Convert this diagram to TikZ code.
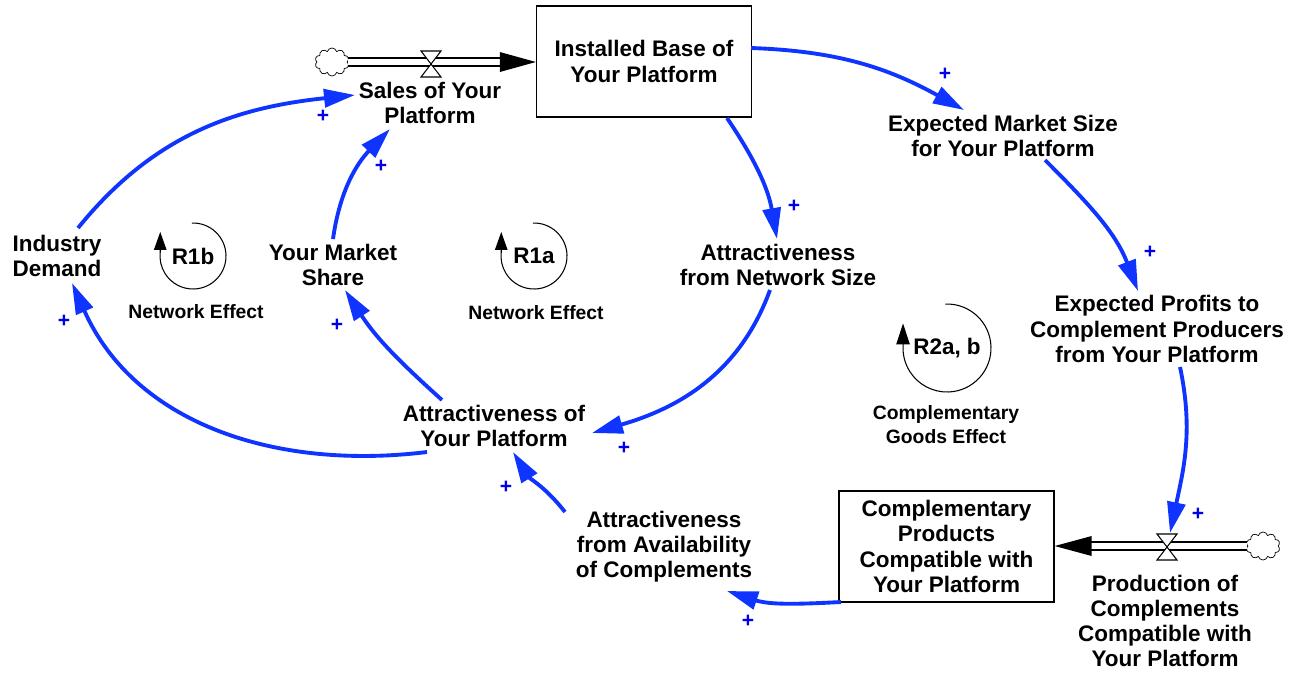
\documentclass[tikz,border=0pt]{standalone}
\usepackage{fontspec}
\setmainfont{Liberation Sans}
\usepackage{tikz}
\usetikzlibrary{positioning, arrows, arrows.meta, shapes.symbols}
\definecolor{lnkblue}{RGB}{16,52,255}
\definecolor{plsblue}{RGB}{0,0,235}

\begin{document}
\begin{tikzpicture}[x=0.02cm, y=0.02cm,
var/.style={align=center, font=\bfseries\fontsize{12.8}{14.3}\selectfont, inner sep=0pt},
stock/.style={var, draw, line width=0.8pt, minimum width=4.3cm, minimum height=2.22cm},
lnk/.style={lnkblue, line width=2.2pt, -{Triangle[length=0.62cm, width=0.36cm]}},
pls/.style={plsblue, font=\bfseries\fontsize{12}{12}\selectfont, inner sep=0pt},
pipe/.style={double, double distance=0.13cm, line width=0.75pt},
cld/.style={cloud, draw, thin, cloud puffs=10, aspect=1.2, minimum width=0.68cm, minimum height=0.56cm, inner sep=0pt},
loopln/.style={line width=0.6pt},
looplbl/.style={font=\bfseries\fontsize{12.8}{14}\selectfont, inner sep=0pt},
eff/.style={align=center, font=\bfseries\fontsize{11}{13.6}\selectfont, inner sep=0pt}]
\useasboundingbox (0,0) rectangle (1301,-674);

% stocks and variables
\node[stock] (ib) at (644,-61.5) {Installed Base of\\Your Platform};
\node[stock] (cp) at (946.5,-546.5) {Complementary\\Products\\Compatible with\\Your Platform};
\node[var] (sales) at (430,-103) {Sales of Your\\Platform};
\node[var] (ems) at (1003,-136) {Expected Market Size\\for Your Platform};
\node[var] (anet) at (778,-265) {Attractiveness\\from Network Size};
\node[var] (ind) at (57,-256) {Industry\\Demand};
\node[var] (share) at (333,-265) {Your Market\\Share};
\node[var] (aplat) at (494,-426) {Attractiveness of\\Your Platform};
\node[var] (prof) at (1157,-329) {Expected Profits to\\Complement Producers\\from Your Platform};
\node[var] (prod) at (1165,-621) {Production of\\Complements\\Compatible with\\Your Platform};
\node[var] (aavail) at (664,-547) {Attractiveness\\from Availability\\of Complements};

% flows
\node[cld] (c1) at (332,-62) {};
\node[cld] (c2) at (1263,-546) {};
\coordinate (v1) at (431,-64);
\coordinate (v2) at (1167,-547);
\draw[pipe] (c1.east) -- ([xshift=-0.7cm]c1.east -| ib.west);
\fill (c1.east -| ib.west) -- ++(-36,10) -- ++(0,-20) -- cycle;
\draw[pipe] (c2.west) -- ([xshift=0.7cm]c2.west -| cp.east);
\fill (c2.west -| cp.east) -- ++(37,10) -- ++(0,-20) -- cycle;
\foreach \v in {v1,v2}
  \filldraw[fill=white, line width=0.6pt] ([shift={(-10,13)}]\v) -- ++(20,0) -- ++(-20,-26) -- ++(20,0) -- cycle;

% causal links
\draw[lnk] ([shift={(107,13.5)}]ib.center) to[out=-2, in=151] ([shift={(-39,26)}]ems.center);
\draw[lnk] ([shift={(42,-24)}]ems.center) to[out=-45, in=111] ([shift={(-19,38)}]prof.center);
\draw[lnk] ([shift={(23,-38)}]prof.center) to[out=-78, in=78] ([shift={(3,14)}]v2);
\draw[lnk] ([shift={(-105.5,-55.5)}]cp.center) to[out=183, in=-18] ([shift={(63,-44)}]aavail.center);
\draw[lnk] ([shift={(-99,35)}]aavail.center) to[out=128, in=-58] ([shift={(19,-26)}]aplat.center);
\draw[lnk] ([shift={(83,-56.5)}]ib.center) to[out=-56, in=100] ([shift={(-1,26)}]anet.center);
\draw[lnk] ([shift={(-8,-25)}]anet.center) to[out=-110, in=16] ([shift={(98,-7)}]aplat.center);
\draw[lnk] ([shift={(-52,26)}]aplat.center) to[out=138, in=-57] ([shift={(12,-25)}]share.center);
\draw[lnk] ([shift={(0,26)}]share.center) to[out=82, in=-134] ([shift={(-40,-26)}]sales.center);
\draw[lnk] ([shift={(-67,-26)}]aplat.center) to[out=187, in=-66] ([shift={(15,-27)}]ind.center);
\draw[lnk] ([shift={(21,28)}]ind.center) to[out=51, in=186] ([shift={(-75,8)}]sales.center);

\foreach \x/\y [count=\i] in {945/74, 1150/252, 1198/514, 748/621, 506/487, 794/206, 624/448, 337/325, 381/166, 64/321, 323/116}
  \node[pls] (p\i) at (\x,-\y) {+};

% loops
\node[looplbl] (r1b) at (193,-256) {R1b};
\node[looplbl] (r1a) at (534,-256) {R1a};
\node[looplbl] (r2) at (947,-348) {R2a, b};
\draw[loopln, -{Triangle[length=0.36cm, width=0.25cm]}] ([shift={(92:33)}]r1b.center) arc[start angle=92, end angle=-187, radius=33] -- ++(0,20);
\draw[loopln, -{Triangle[length=0.36cm, width=0.25cm]}] ([shift={(92:33)}]r1a.center) arc[start angle=92, end angle=-187, radius=33] -- ++(0,20);
\draw[loopln, -{Triangle[length=0.42cm, width=0.27cm]}] ([shift={(92:44)}]r2.center) arc[start angle=92, end angle=-182, radius=44] -- ++(0,23);
\node[eff] (ne1) at (196,-312) {Network Effect};
\node[eff] (ne2) at (536,-313) {Network Effect};
\node[eff] (cge) at (946,-425) {Complementary\\Goods Effect};
\end{tikzpicture}
\end{document}
